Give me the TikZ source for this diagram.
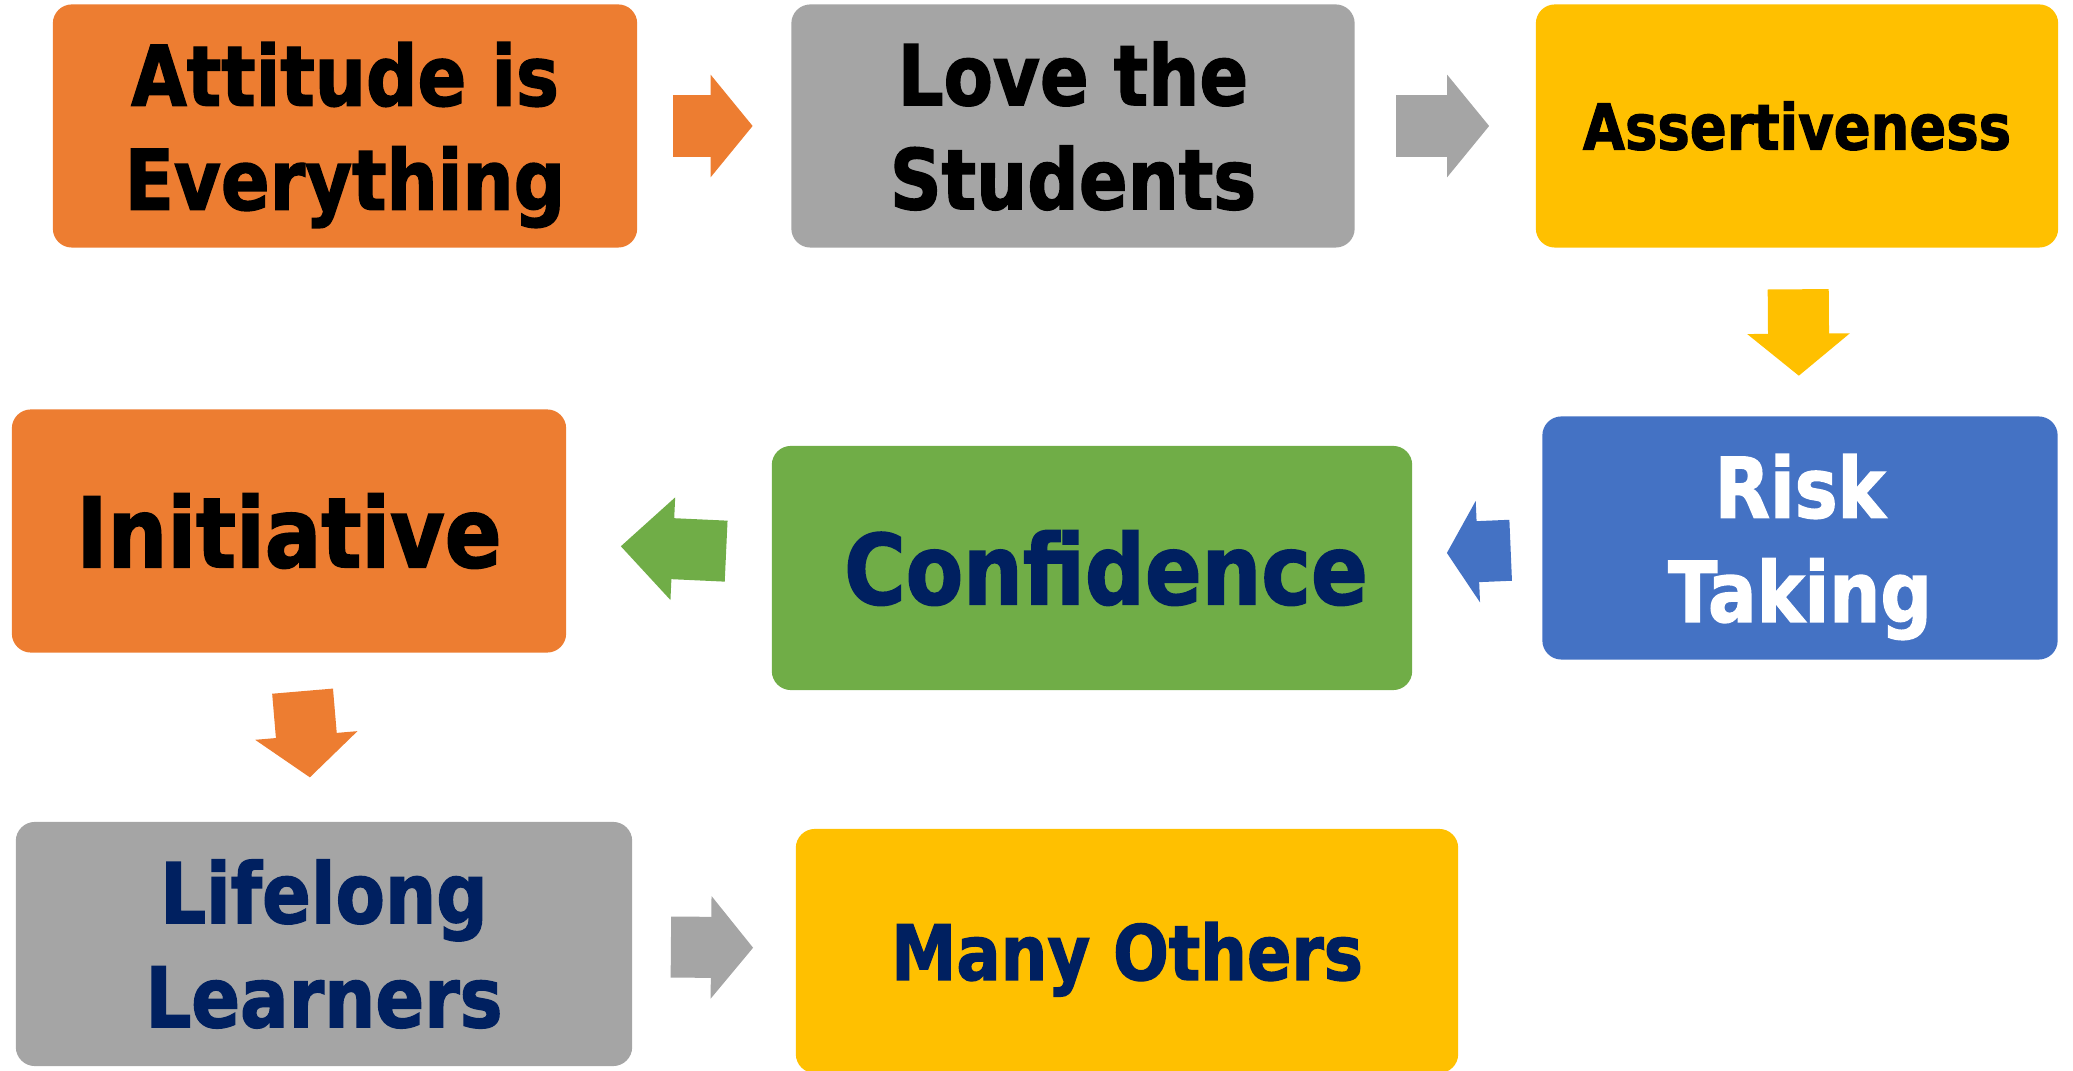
\documentclass[tikz,border=0pt]{standalone}
\usepackage{fontspec}
\usepackage{tikz}
\usetikzlibrary{calc, shapes, arrows.meta}
\newfontfamily\boxfont[FakeStretch=0.86,FakeBold=1.6]{DejaVu Sans}
\definecolor{c_orange}{HTML}{ED7D31}
\definecolor{c_gray}{HTML}{A5A5A5}
\definecolor{c_yellow}{HTML}{FFC000}
\definecolor{c_blue}{HTML}{4472C4}
\definecolor{c_green}{HTML}{70AD47}
\definecolor{c_navy}{HTML}{002060}

\begin{document}
\begin{tikzpicture}[x=0.01cm,y=-0.01cm]
\tikzstyle{box}=[rounded corners=0.19cm,minimum height=2.43cm,align=center,inner sep=0pt]
\tikzstyle{big}=[font=\boxfont\bfseries\fontsize{23.8}{29.6}\selectfont]
\tikzstyle{huge}=[font=\boxfont\bfseries\fontsize{27.7}{33}\selectfont]
\tikzstyle{flow}=[line width=0.61cm,-{Triangle[length=0.42cm,width=1.02cm,line width=1pt]}]
\useasboundingbox (0,0) rectangle (2073,1071);
\node[box,big,fill=c_orange,minimum width=5.84cm,text depth=0pt] (S_1) at (345,126) {Attitude is\\Everything};
\node[box,big,fill=c_gray,minimum width=5.63cm] (S_2) at (1073,126) {Love the\\Students};
\node[box,fill=c_yellow,minimum width=5.22cm,font=\boxfont\bfseries\fontsize{18}{22}\selectfont] (S_3) at (1797,126) {Assertiveness};
\node[box,big,fill=c_blue,text=white,minimum width=5.15cm,text depth=0pt] (S_4) at (1800,538) {Risk\\Taking};
\node[box,huge,fill=c_green,text=c_navy,minimum width=6.40cm,minimum height=2.44cm] (S_5) at (1092,568) {\hspace*{0.28cm}Confidence};
\node[box,huge,fill=c_orange,minimum width=5.54cm] (S_6) at (289,531) {Initiative};
\node[box,big,fill=c_gray,text=c_navy,minimum width=6.16cm,minimum height=2.44cm] (S_7) at (324,944) {Lifelong\\Learners};
\node[box,fill=c_yellow,text=c_navy,minimum width=6.62cm,minimum height=2.44cm,text depth=0pt,font=\boxfont\bfseries\fontsize{21.7}{26}\selectfont] (S_8) at (1127,951) {Many Others};
\draw[flow,c_orange,shorten <=0.35cm,shorten >=0.38cm] (S_1) -- (S_2);
\draw[flow,c_gray,shorten <=0.41cm,shorten >=0.46cm] (S_2) -- (S_3);
\draw[flow,c_yellow,shorten <=0.41cm,shorten >=0.40cm] (S_3) -- (S_4);
\draw[flow,c_blue,shorten <=0.31cm,shorten >=0.34cm,-{Triangle[length=0.31cm,width=1.01cm,line width=1pt]}] (S_4) -- (S_5);
\draw[flow,c_green,shorten <=0.45cm,shorten >=0.54cm,-{Triangle[length=0.52cm,width=1.02cm,line width=1pt]}] (S_5) -- (S_6);
\draw[flow,c_orange,shorten <=0.38cm,shorten >=0.44cm] (S_6) -- (S_7);
\draw[flow,c_gray,shorten <=0.38cm,shorten >=0.42cm] (S_7) -- (S_8);
\end{tikzpicture}
\end{document}
